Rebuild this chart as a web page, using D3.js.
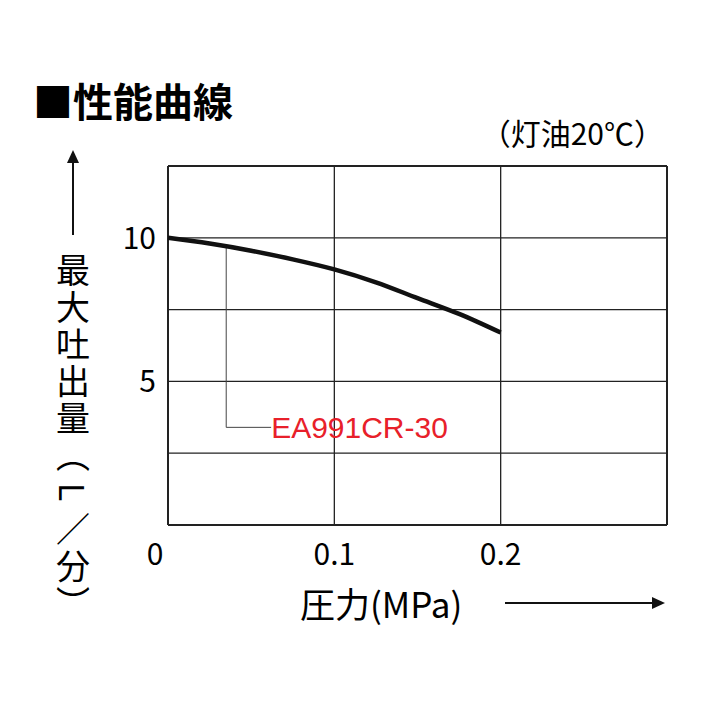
<!DOCTYPE html><html><head><meta charset="utf-8"><script src="https://d3js.org/d3.v7.min.js"></script>
<style>body{margin:0;background:#fff}</style></head><body><svg id="c" width="713" height="713"></svg><script>
const pressure=[0,0.025,0.05,0.075,0.1,0.125,0.15,0.175,0.2];
const flow=[10,9.8,9.55,9.25,8.9,8.45,7.9,7.35,6.7];
const xTicks=[0,0.1,0.2];const yTicks=[5,10];
const seriesName="EA991CR-30";
const svg=d3.select("#c");
const f="'Noto Sans CJK JP','Noto Sans',sans-serif";
const x=d3.scaleLinear().domain([0,0.3]).range([168,667]);
const y=d3.scaleLinear().domain([0,12.5]).range([525,166]);
const g=svg.append("g");
[0,0.1,0.2,0.3].forEach(v=>g.append("line").attr("x1",x(v)).attr("x2",x(v)).attr("y1",166).attr("y2",525).attr("stroke","#222").attr("stroke-width",v==0||v==0.3?2:1.3));
[0,2.5,5,7.5,10,12.5].forEach(v=>g.append("line").attr("x1",168).attr("x2",667).attr("y1",y(v)).attr("y2",y(v)).attr("stroke","#222").attr("stroke-width",v==0||v==12.5?2:1.3));
const ax=0.035;const fy=d3.scaleLinear().domain(pressure).range(flow);
svg.append("path").attr("d",`M${x(ax)},${y(fy(ax))}V${y(3.4)}H${x(0.062)}`).attr("fill","none").attr("stroke","#444").attr("stroke-width",1);
svg.append("path").datum(pressure.map((p,i)=>[p,flow[i]])).attr("d",d3.line().x(d=>x(d[0])).y(d=>y(d[1])).curve(d3.curveMonotoneX)).attr("fill","none").attr("stroke","#111").attr("stroke-width",4.5);
svg.append("text").attr("x",x(0.062)).attr("y",y(3.4)+11).attr("fill","#e8202a").attr("font-family","'Liberation Sans',sans-serif").attr("font-size",30).text(seriesName);
xTicks.forEach(v=>svg.append("text").attr("x",v==0?155:x(v)).attr("y",565).attr("text-anchor","middle").attr("font-family",f).attr("font-size",30).text(v==0?"0":v.toFixed(1)));
yTicks.forEach(v=>svg.append("text").attr("x",156).attr("y",y(v)+11).attr("text-anchor","end").attr("font-family",f).attr("font-size",30).text(v));
svg.append("text").attr("x",33).attr("y",117).attr("font-family",f).attr("font-size",40).attr("font-weight","bold").text("■性能曲線");
svg.append("text").attr("x",664).attr("y",145).attr("text-anchor","end").attr("font-family",f).attr("font-size",30).text("（灯油20℃）");
svg.append("line").attr("x1",73).attr("x2",73).attr("y1",160).attr("y2",235).attr("stroke","#111").attr("stroke-width",2);
svg.append("path").attr("d","M67,163L73,150L79,163Z").attr("fill","#111");
const yl="最大吐出量（L／分）";
[...yl].forEach((ch,i)=>svg.append("text").attr("x",73).attr("y",270+i*37).attr("text-anchor","middle").attr("font-family",f).attr("font-size",34).attr("writing-mode","tb").text(ch));
svg.append("text").attr("x",300).attr("y",618).attr("font-family",f).attr("font-size",35).text("圧力(MPa)");
svg.append("line").attr("x1",505).attr("x2",655).attr("y1",603).attr("y2",603).attr("stroke","#111").attr("stroke-width",2);
svg.append("path").attr("d","M652,597L665,603L652,609Z").attr("fill","#111");
</script></body></html>
